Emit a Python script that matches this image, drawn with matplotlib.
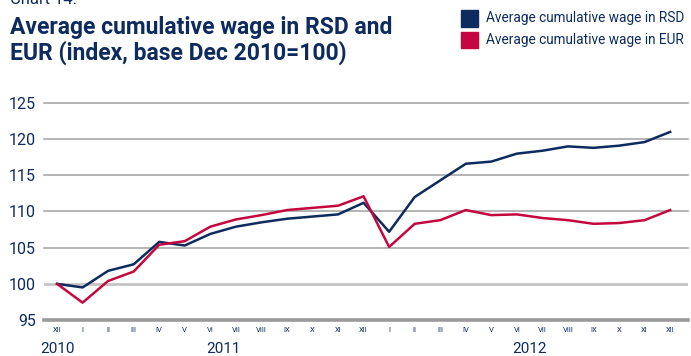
import matplotlib.pyplot as plt
from matplotlib.patches import Rectangle

plt.rcParams['font.family'] = ['Roboto', 'DejaVu Sans']

navy = '#0d2b5e'
red = '#c4073f'

months = ['XII', 'I', 'II', 'III', 'IV', 'V', 'VI', 'VII', 'VIII', 'IX', 'X', 'XI', 'XII',
          'I', 'II', 'III', 'IV', 'V', 'VI', 'VII', 'VIII', 'IX', 'X', 'XI', 'XII']
rsd = [100.0, 99.5, 101.8, 102.7, 105.8, 105.3, 106.9, 107.9, 108.5, 109.0, 109.3, 109.6, 111.2,
       107.2, 112.0, 114.3, 116.6, 116.9, 118.0, 118.4, 119.0, 118.8, 119.1, 119.6, 121.0]
eur = [100.0, 97.4, 100.4, 101.7, 105.4, 105.9, 107.9, 108.9, 109.5, 110.2, 110.5, 110.8, 112.1,
       105.1, 108.3, 108.8, 110.2, 109.5, 109.6, 109.1, 108.8, 108.3, 108.4, 108.8, 110.2]
years = ['2010', '2011', '2012']
year_pos = [0, 6.5, 18.5]
yticks = [95, 100, 105, 110, 115, 120, 125]
names = ['Average cumulative wage in RSD', 'Average cumulative wage in EUR']

fig = plt.figure(figsize=(6.91, 3.56), dpi=100)
ax = fig.add_axes([0.0637, 0.1011, 0.932, 0.6096])
x = list(range(len(months)))

for v in yticks:
    if v == 95:
        ax.axhline(v, color='#9a9a9a', lw=2.6, zorder=1, clip_on=False)
    elif v == 100:
        ax.axhline(v, color='#c4c4c4', lw=2.0, zorder=1)
    else:
        ax.axhline(v, color='#a8a8a8', lw=1.2, zorder=1, clip_on=False)

ax.plot(x, rsd, color=navy, lw=1.8, zorder=3)
ax.plot(x, eur, color=red, lw=1.8, zorder=3)

ax.set_xlim(-0.51, 24.7)
ax.set_ylim(95, 125)
for s in ax.spines.values():
    s.set_visible(False)
ax.set_yticks(yticks)
ax.set_yticklabels([str(v) for v in yticks], color=navy, fontsize=11.5)
ax.set_xticks(x)
ax.set_xticklabels(months, color=navy, fontsize=5.5)
ax.tick_params(axis='both', length=0)
ax.tick_params(axis='y', pad=6)
ax.tick_params(axis='x', pad=5)

for yr, p in zip(years, year_pos):
    ax.text(p, -0.133, yr, transform=ax.get_xaxis_transform(), ha='center', va='center',
            color=navy, fontsize=11)

fig.text(0.0145, 1.0, 'Chart 14.', color=navy, fontsize=12, va='center')
fig.text(0.0145, 0.9045, 'Average cumulative wage in RSD and', color=navy,
         fontsize=16.5, fontweight='bold', va='baseline')
fig.text(0.0145, 0.8315, 'EUR (index, base Dec 2010=100)', color=navy,
         fontsize=16.5, fontweight='bold', va='baseline')

# legend drawn by hand
fig.add_artist(Rectangle((0.667, 0.9242), 0.0246, 0.0478, color=navy, transform=fig.transFigure))
fig.add_artist(Rectangle((0.667, 0.8652), 0.0246, 0.0450, color=red, transform=fig.transFigure))
fig.text(0.7033, 0.9494, names[0], color=navy, fontsize=9.8, va='center')
fig.text(0.7033, 0.8876, names[1], color=navy, fontsize=9.8, va='center')

fig.savefig('out.png', dpi=100)
